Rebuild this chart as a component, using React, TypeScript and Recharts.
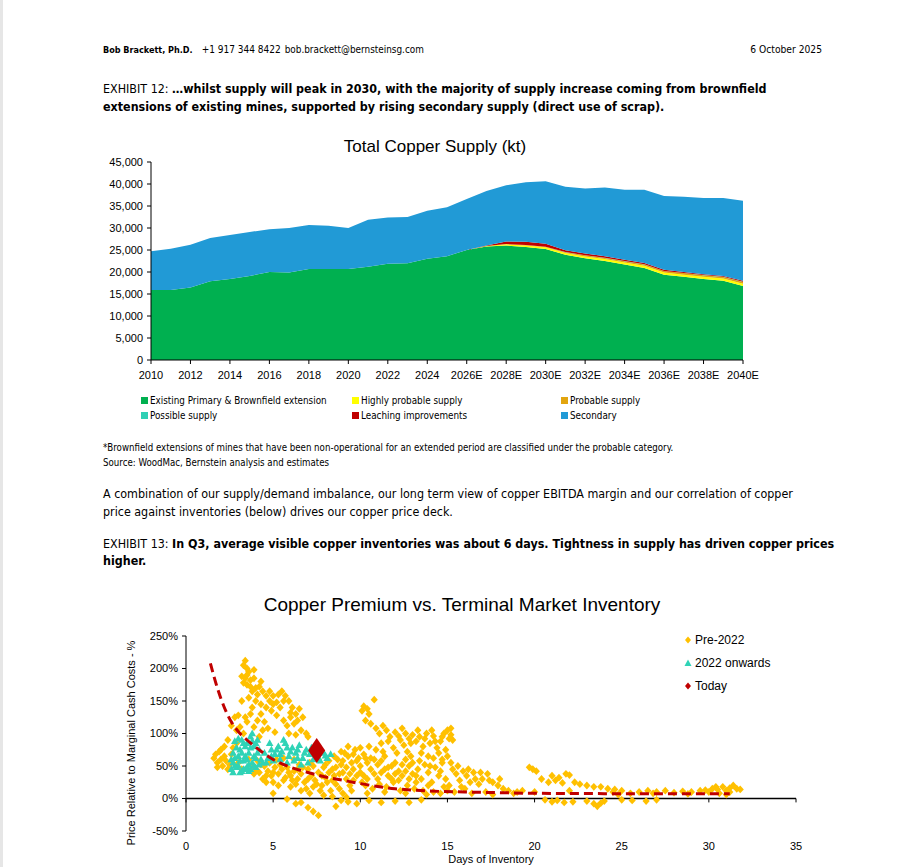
import React from "react";
import {
  Area,
  AreaChart,
  ReferenceLine,
  Scatter,
  ScatterChart,
  XAxis,
  YAxis,
} from "recharts";

// ---- Exhibit 12: total copper supply (kt) ----
const years = [
  "2010", "2011", "2012", "2013", "2014", "2015", "2016", "2017", "2018", "2019",
  "2020", "2021", "2022", "2023", "2024", "2025", "2026E", "2027E", "2028E", "2029E",
  "2030E", "2031E", "2032E", "2033E", "2034E", "2035E", "2036E", "2037E", "2038E", "2039E",
  "2040E",
];
const existingPrimary = [
  15900, 15900, 16500, 17900, 18400, 19100, 20000, 19900, 20700, 20700,
  20700, 21200, 21900, 22000, 23000, 23600, 25000, 25800, 26000, 25700,
  25200, 23900, 23100, 22500, 21700, 20900, 19400, 18900, 18400, 18000,
  16800,
];
const highlyProbable = [
  0, 0, 0, 0, 0, 0, 0, 0, 0, 0, 0, 0, 0, 0, 0, 0, 0, 100, 300, 350,
  400, 400, 450, 450, 450, 500, 500, 500, 500, 500, 550,
];
const probable = [
  0, 0, 0, 0, 0, 0, 0, 0, 0, 0, 0, 0, 0, 0, 0, 0, 0, 0, 50, 100,
  150, 200, 250, 250, 300, 300, 300, 350, 350, 350, 400,
];
const possible = [
  0, 0, 0, 0, 0, 0, 0, 0, 0, 0, 0, 0, 0, 0, 0, 0, 0, 0, 0, 0,
  0, 20, 30, 30, 40, 40, 40, 50, 50, 50, 50,
];
const leaching = [
  0, 0, 0, 0, 0, 0, 0, 0, 0, 0, 0, 0, 0, 0, 0, 0, 0, 100, 600, 700,
  650, 450, 400, 350, 300, 300, 250, 200, 200, 200, 200,
];
const secondary = [
  8800, 9400, 9700, 9800, 10000, 10000, 9700, 10100, 10000, 9800,
  9300, 10700, 10500, 10500, 10900, 11100, 11600, 12400, 12750, 13550,
  14200, 14430, 14770, 15620, 15910, 16660, 16810, 17100, 17300, 17700,
  18200,
];
const supplyTicks = [0, 5000, 10000, 15000, 20000, 25000, 30000, 35000, 40000, 45000];

// ---- Exhibit 13: copper premium vs inventory ----
// [days of inventory, price relative to marginal cash cost %]
const pre2022: [number, number][] = [
  [1.6, 62], [1.7, 68], [1.8, 55], [1.9, 72], [2.0, 60], [2.1, 50], [2.2, 65], [2.3, 58],
  [2.4, 45], [2.5, 52], [1.8, 48], [2.0, 75], [2.6, 68], [2.7, 78], [2.9, 85],
  [3.3, 205], [3.4, 212], [3.5, 200], [3.6, 195], [3.2, 188], [3.4, 185], [3.7, 182],
  [3.3, 178], [3.5, 175], [3.9, 198], [4.0, 170], [3.8, 165], [4.2, 172], [4.1, 160],
  [3.6, 155], [3.2, 150], [3.0, 128], [3.4, 125], [3.8, 140], [3.1, 110], [3.5, 118],
  [2.8, 125], [2.6, 112],
  [3.5, 190], [3.7, 172], [3.9, 185], [4.3, 180], [4.0, 150], [4.3, 145], [4.6, 140],
  [3.7, 130], [4.1, 120], [3.9, 110], [4.4, 105], [4.8, 165], [5.0, 158], [5.2, 148],
  [5.6, 150], [6.0, 132], [6.4, 120], [5.9, 100], [6.3, 98], [4.2, 95], [3.3, 100],
  [2.9, 105], [2.4, 90], [2.2, 80],
  [4.4, 165], [4.6, 158], [4.8, 150], [5.0, 145], [5.3, 160], [5.5, 165], [5.7, 158],
  [5.9, 150], [6.1, 140], [6.3, 130], [6.5, 138], [6.7, 125], [4.9, 135], [5.2, 128],
  [5.6, 120], [5.8, 112], [6.0, 125], [6.2, 115], [4.5, 118], [4.7, 108], [5.1, 102],
  [6.6, 105], [6.9, 100], [7.0, 95], [5.4, 140], [4.3, 130],
  [4.0, 45], [4.2, 40], [4.5, 50], [4.7, 42], [4.9, 35], [5.1, 48], [5.3, 38], [5.5, 45],
  [5.7, 32], [5.9, 40], [4.4, 30], [4.8, 55], [5.2, 60], [5.6, 28], [6.0, 35], [4.1, 58],
  [3.8, 50], [3.6, 60], [3.2, 45], [3.0, 55],
  [6.2, 42], [6.4, 30], [6.6, 38], [6.8, 25], [7.0, 45], [7.2, 35], [7.4, 28], [7.6, 40],
  [7.8, 20], [8.0, 32], [6.5, 52], [6.9, 15], [7.3, 18], [7.7, 12], [8.1, 25], [6.3, 22],
  [7.1, 55], [7.9, 48], [8.2, 58], [8.4, 45],
  [8.5, 35], [8.7, 60], [8.9, 52], [9.1, 70], [9.3, 65], [9.5, 55], [9.7, 75], [9.9, 62],
  [8.6, 22], [8.8, 15], [9.0, 40], [9.2, 30], [9.4, 20], [9.6, 45], [9.8, 35], [10.0, 50],
  [8.3, 12], [9.0, 8], [9.5, 12], [10.1, 25],
  [3.9, 38], [4.3, 52], [4.6, 35], [5.0, 25], [5.4, 52], [5.8, 48], [6.1, 28], [6.4, 45],
  [6.7, 48], [7.0, 30], [7.3, 50], [7.5, 22], [7.8, 35], [8.0, 52], [8.2, 40], [8.4, 28],
  [8.6, 48], [8.8, 38], [9.0, 58], [9.2, 48], [9.4, 38], [9.6, 28], [9.8, 58], [10.0, 40],
  [10.2, 35], [10.4, 30], [10.6, 62], [10.8, 38], [11.0, 30], [11.2, 58], [11.4, 45],
  [11.6, 35], [11.8, 50], [12.0, 38], [12.2, 28], [12.4, 52], [12.6, 42], [12.8, 30],
  [13.0, 55], [13.2, 35], [9.3, 80], [9.6, 68], [10.0, 78], [10.3, 62], [8.9, 72],
  [8.5, 65], [7.6, 60], [6.2, 60], [5.6, 62], [5.0, 40], [4.6, 25], [5.3, 20], [6.0, 18],
  [6.6, 12], [7.1, 8], [7.9, 5], [8.4, 3], [9.2, 2], [10.4, 8], [11.4, 10], [12.6, 8],
  [13.8, 6], [14.6, 8], [15.4, 10], [16.4, 8], [17.6, 6],
  [10.2, 68], [10.4, 55], [10.6, 45], [10.8, 60], [11.0, 52], [11.2, 40], [11.4, 65],
  [11.6, 48], [11.8, 30], [12.0, 55], [12.2, 42], [12.4, 35], [12.6, 60], [12.8, 50],
  [13.0, 38], [10.3, 20], [10.7, 15], [11.1, 22], [11.5, 18], [11.9, 25], [12.3, 12],
  [12.7, 20], [13.1, 15], [10.5, 80], [10.9, 75], [11.3, 72], [12.1, 70], [12.9, 65],
  [13.3, 45], [13.5, 30], [13.7, 52], [13.9, 40], [14.1, 25], [14.3, 48], [14.5, 35],
  [14.7, 55], [14.9, 30], [15.1, 20], [15.3, 45], [15.5, 38], [15.7, 28], [15.9, 42],
  [16.1, 35], [16.3, 25], [16.5, 40], [16.8, 22], [17.0, 30], [17.3, 38], [17.6, 25],
  [17.9, 20], [18.2, 15], [13.6, 12], [14.2, 10], [15.0, 12], [16.0, 15], [17.2, 10],
  [18.5, 12], [19.0, 10],
  [13.4, 58], [14.0, 50], [14.6, 42], [15.2, 55], [15.6, 50], [16.2, 45], [16.6, 30],
  [17.4, 28], [18.0, 30], [16.9, 40], [15.8, 18], [14.8, 18], [13.9, 20], [13.2, 25],
  [10.1, 135], [10.2, 142], [10.4, 138], [10.5, 130], [10.8, 152], [10.3, 120], [10.6, 115],
  [10.9, 108], [11.1, 100], [11.3, 112], [11.5, 105], [11.7, 95],
  [12.0, 102], [12.2, 96], [12.4, 108], [12.6, 100], [12.8, 92], [13.0, 98], [13.2, 88],
  [13.4, 95], [13.6, 80], [13.8, 100], [14.0, 85], [14.2, 96], [14.4, 78], [14.6, 88],
  [14.8, 100], [15.0, 105], [15.2, 98], [15.3, 90], [14.9, 75], [14.5, 70], [13.5, 70],
  [12.5, 82], [11.9, 78], [15.0, 65], [14.7, 60],
  [12.3, 90], [12.9, 85], [13.3, 105], [13.7, 92], [14.1, 105], [14.3, 88], [14.7, 95],
  [15.1, 92], [15.2, 108], [11.6, 88], [11.2, 85], [12.7, 72], [13.9, 65], [14.2, 62],
  [5.0, 8], [5.8, -1], [6.3, -8], [6.6, -6], [7.0, -14], [7.3, -20], [7.6, -26], [8.6, -12],
  [8.9, -3], [9.3, -5], [9.8, -8], [10.5, -3], [11.2, -6], [12.0, -4], [12.8, -6], [13.5, -2],
  [19.7, 48], [19.9, 45], [20.1, 42], [20.4, 30], [20.8, 25], [21.0, 35], [21.2, 28],
  [21.4, 32], [21.6, 24], [21.8, 38], [22.0, 36], [22.3, 25], [22.6, 22], [23.0, 20],
  [23.4, 18], [23.8, 18], [24.2, 15], [24.6, 14],
  [20.6, -2], [21.0, -5], [21.3, -3], [21.7, -6], [22.2, -5], [23.0, -4], [23.4, -8],
  [23.6, -12], [23.8, -7], [24.0, -4], [25.0, -2], [25.6, -3], [26.4, -4], [27.0, -2],
  [18.8, 8], [19.3, 12], [20.0, 10], [22.0, 12], [24.5, 10], [25.0, 12], [25.5, 8],
  [26.0, 10], [26.5, 12], [27.0, 10], [27.5, 12], [28.0, 9], [28.5, 11], [29.0, 10],
  [29.5, 12], [30.0, 10], [30.5, 14], [30.8, 18], [31.0, 12], [31.2, 16], [31.4, 20],
  [31.6, 15], [31.8, 14], [30.2, 15], [30.6, 8], [31.0, 6], [31.2, 10], [30.4, 18],
  [29.8, 13], [26.8, 8], [28.8, 7], [24.8, 6],
];
const from2022: [number, number][] = [
  [2.6, 45], [2.7, 55], [2.8, 62], [2.9, 48], [3.0, 92], [3.1, 40], [3.2, 70], [3.3, 58],
  [3.4, 45], [3.5, 85], [3.6, 52], [3.7, 95], [3.8, 100], [3.9, 65], [4.0, 48], [4.1, 90],
  [4.2, 75], [2.8, 88], [3.0, 50], [3.2, 42], [3.4, 80], [3.6, 42], [3.8, 55], [4.0, 85],
  [2.7, 40], [3.1, 75], [3.5, 60], [3.9, 80], [4.3, 60], [4.4, 55],
  [2.7, 70], [2.9, 78], [3.0, 65], [3.1, 58], [3.2, 90], [3.3, 85], [3.4, 65], [3.5, 48],
  [3.6, 70], [3.7, 78], [3.8, 88], [3.9, 50], [4.0, 62], [4.1, 70], [4.2, 52], [2.6, 60],
  [2.8, 50], [3.3, 45], [3.7, 45],
  [4.5, 70], [4.7, 62], [4.9, 75], [5.1, 68], [5.3, 80], [5.5, 72], [5.7, 85], [5.9, 65],
  [6.1, 78], [6.3, 70], [6.5, 82], [6.7, 62], [6.9, 75], [7.1, 68], [7.3, 60], [7.5, 65],
  [7.7, 58], [7.9, 70], [8.1, 62], [8.3, 68], [4.6, 55], [5.0, 58], [5.4, 60], [5.8, 55],
  [6.2, 58], [6.6, 52], [7.0, 55], [4.8, 85], [5.6, 90],
  [5.2, 75], [5.8, 78], [6.4, 75], [6.8, 70], [7.2, 78], [7.6, 72], [8.0, 66], [6.0, 72],
  [5.4, 68], [4.9, 65], [6.4, 62],
];
const today: [number, number][] = [[7.5, 74]];
const trend: [number, number][] = [
  [1.4, 208], [1.8, 170], [2.2, 140], [2.6, 118], [3.0, 103], [3.5, 90], [4.0, 79],
  [5.0, 60], [6.0, 48], [7.0, 40], [8.0, 33], [9.0, 28], [10.0, 23], [11.0, 18.5],
  [12.0, 15], [13.0, 13], [14.0, 11.5], [16.0, 10], [18.0, 9], [20.0, 8], [24.0, 7.5],
  [28.0, 7.5], [31.2, 7.5],
];
const dayTicks = [0, 5, 10, 15, 20, 25, 30, 35];
const pctTicks = [-50, 0, 50, 100, 150, 200, 250];

const supplyRows = years.map((year, i) => ({
  year,
  existingPrimary: existingPrimary[i],
  highlyProbable: highlyProbable[i],
  probable: probable[i],
  possible: possible[i],
  leaching: leaching[i],
  secondary: secondary[i],
}));
const toXY = (pts: [number, number][]) => pts.map(([x, y]) => ({ x, y }));

const CHART_FONT = "'Liberation Sans', Arial, sans-serif";
const TEXT_FONT = "'DejaVu Sans Condensed', 'Liberation Sans Narrow', sans-serif";

const colors = {
  existing: "#00B050",
  highly: "#FFFF00",
  probable: "#E2A50F",
  possible: "#2FD0B5",
  leaching: "#C00000",
  secondary: "#219AD6",
  pre: "#FFC000",
  post: "#2FD3B6",
  today: "#C00000",
};

const supplyLegend = [
  { label: "Existing Primary & Brownfield extension", color: colors.existing, left: 141, top: 395 },
  { label: "Highly probable supply", color: colors.highly, left: 352, top: 395 },
  { label: "Probable supply", color: colors.probable, left: 561, top: 395 },
  { label: "Possible supply", color: colors.possible, left: 141, top: 410 },
  { label: "Leaching improvements", color: colors.leaching, left: 352, top: 410 },
  { label: "Secondary", color: colors.secondary, left: 561, top: 410 },
];

function OrangeMark(p: any) {
  const { cx, cy } = p;
  return (
    <path
      d={`M${cx},${cy - 3.9}L${cx + 3.6},${cy}L${cx},${cy + 3.9}L${cx - 3.6},${cy}Z`}
      fill={colors.pre}
    />
  );
}

function TealMark(p: any) {
  const { cx, cy } = p;
  return (
    <path
      d={`M${cx},${cy - 4}L${cx + 3.8},${cy + 2.8}L${cx - 3.8},${cy + 2.8}Z`}
      fill={colors.post}
    />
  );
}

function TodayMark(p: any) {
  const { cx, cy } = p;
  return (
    <path
      d={`M${cx},${cy - 12.5}L${cx + 8.5},${cy}L${cx},${cy + 12.5}L${cx - 8.5},${cy}Z`}
      fill={colors.today}
    />
  );
}

const NoMark = () => <g />;

const abs = (left: number, top: number, extra: React.CSSProperties = {}): React.CSSProperties => ({
  position: "absolute",
  left,
  top,
  whiteSpace: "nowrap",
  ...extra,
});

export default function App() {
  const axisTick = { fill: "#000", fontSize: 11, fontFamily: CHART_FONT };
  return (
    <div
      style={{
        position: "absolute",
        left: 0,
        top: 0,
        width: 918,
        height: 867,
        overflow: "hidden",
        background: "#fff",
        color: "#000",
        fontFamily: TEXT_FONT,
      }}
    >
      <div style={{ position: "absolute", left: 0, top: 0, width: 3, height: 867, background: "#e6e6e6" }} />

      {/* header */}
      <div style={abs(103, 44, { fontSize: 10 })}>
        <b style={{ fontSize: 9 }}>Bob Brackett, Ph.D.</b>
        <span style={{ marginLeft: 9 }}>+1 917 344 8422</span>
        <span style={{ marginLeft: 4, fontSize: 9.9 }}>bob.brackett@bernsteinsg.com</span>
      </div>
      <div style={abs(0, 44, { fontSize: 10.2, left: "auto", right: 96 })}>6 October 2025</div>

      {/* exhibit 12 */}
      <div style={abs(103, 81, { fontSize: 12.4 })}>
        <span style={{ fontWeight: 300 }}>EXHIBIT 12: </span>
        <b>…whilst supply will peak in 2030, with the majority of supply increase coming from brownfield</b>
      </div>
      <div style={abs(103, 99, { fontSize: 12.4, fontWeight: 700 })}>
        extensions of existing mines, supported by rising secondary supply (direct use of scrap).
      </div>

      <div style={abs(0, 137, { width: 870, textAlign: "center", fontFamily: CHART_FONT, fontSize: 17 })}>
        Total Copper Supply (kt)
      </div>

      <div style={{ position: "absolute", left: 90, top: 155 }}>
        <AreaChart
          width={680}
          height={225}
          data={supplyRows}
          margin={{ top: 7, right: 27, left: 11, bottom: 0 }}
        >
          <XAxis
            dataKey="year"
            interval={1}
            height={20}
            tickSize={4}
            tickMargin={7}
            stroke="#000"
            tick={axisTick}
          />
          <YAxis
            width={50}
            domain={[0, 45000]}
            ticks={supplyTicks}
            tickSize={4}
            tickMargin={4}
            stroke="#000"
            tick={axisTick}
            tickFormatter={(v: number) => v.toLocaleString("en-US")}
          />
          <Area dataKey="existingPrimary" stackId="s" type="linear" stroke="none" fill={colors.existing} fillOpacity={1} isAnimationActive={false} />
          <Area dataKey="highlyProbable" stackId="s" type="linear" stroke="none" fill={colors.highly} fillOpacity={1} isAnimationActive={false} />
          <Area dataKey="probable" stackId="s" type="linear" stroke="none" fill={colors.probable} fillOpacity={1} isAnimationActive={false} />
          <Area dataKey="possible" stackId="s" type="linear" stroke="none" fill={colors.possible} fillOpacity={1} isAnimationActive={false} />
          <Area dataKey="leaching" stackId="s" type="linear" stroke="none" fill={colors.leaching} fillOpacity={1} isAnimationActive={false} />
          <Area dataKey="secondary" stackId="s" type="linear" stroke="none" fill={colors.secondary} fillOpacity={1} isAnimationActive={false} />
        </AreaChart>
      </div>

      {supplyLegend.map((l) => (
        <div key={l.label} style={abs(l.left, l.top, { fontSize: 9.8, display: "flex", alignItems: "center" })}>
          <span style={{ display: "inline-block", width: 7, height: 7, background: l.color, marginRight: 2 }} />
          {l.label}
        </div>
      ))}

      <div style={abs(103, 442, { fontSize: 9.65 })}>
        *Brownfield extensions of mines that have been non-operational for an extended period are classified under the probable category.
      </div>
      <div style={abs(103, 457, { fontSize: 9.65 })}>Source: WoodMac, Bernstein analysis and estimates</div>

      <div style={abs(103, 486, { fontSize: 12.4 })}>
        A combination of our supply/demand imbalance, our long term view of copper EBITDA margin and our correlation of copper
      </div>
      <div style={abs(103, 504, { fontSize: 12.4 })}>
        price against inventories (below) drives our copper price deck.
      </div>

      {/* exhibit 13 */}
      <div style={abs(103, 536, { fontSize: 12.4 })}>
        <span style={{ fontWeight: 300 }}>EXHIBIT 13: </span>
        <b>In Q3, average visible copper inventories was about 6 days. Tightness in supply has driven copper prices</b>
      </div>
      <div style={abs(103, 553, { fontSize: 12.4, fontWeight: 700 })}>higher.</div>

      <div style={abs(0, 594, { width: 924, textAlign: "center", fontFamily: CHART_FONT, fontSize: 19 })}>
        Copper Premium vs. Terminal Market Inventory
      </div>

      <div style={{ position: "absolute", left: 90, top: 620 }}>
        <ScatterChart width={730} height={247} margin={{ top: 16, right: 24, left: 26, bottom: 0 }}>
          <XAxis
            type="number"
            dataKey="x"
            domain={[0, 35]}
            ticks={dayTicks}
            height={36}
            axisLine={false}
            tickLine={false}
            tickSize={0}
            tickMargin={11}
            tick={axisTick}
          />
          <YAxis
            type="number"
            dataKey="y"
            width={70}
            domain={[-50, 250]}
            ticks={pctTicks}
            tickSize={4}
            tickMargin={4}
            stroke="#000"
            tick={axisTick}
            tickFormatter={(v: number) => `${v}%`}
          />
          <ReferenceLine y={0} stroke="#000" strokeWidth={1.3} />
          {dayTicks.map((t) => (
            <ReferenceLine
              key={t}
              segment={[{ x: t, y: 0 }, { x: t, y: -6 }]}
              stroke="#000"
              strokeWidth={1}
            />
          ))}
          <Scatter data={toXY(pre2022)} shape={OrangeMark} isAnimationActive={false} />
          <Scatter data={toXY(from2022)} shape={TealMark} isAnimationActive={false} />
          <Scatter
            data={toXY(trend)}
            shape={NoMark}
            line={{ stroke: colors.today, strokeWidth: 3, strokeDasharray: "9 5" }}
            lineJointType="monotoneX"
            isAnimationActive={false}
          />
          <Scatter data={toXY(today)} shape={TodayMark} isAnimationActive={false} />
        </ScatterChart>
      </div>

      <div
        style={abs(131, 743, {
          fontFamily: CHART_FONT,
          fontSize: 11,
          transform: "translate(-50%, -50%) rotate(-90deg)",
        })}
      >
        Price Relative to Marginal Cash Costs - %
      </div>
      <div style={abs(0, 853, { width: 982, textAlign: "center", fontFamily: CHART_FONT, fontSize: 11 })}>
        Days of Inventory
      </div>

      {/* scatter legend */}
      {[
        { label: "Pre-2022", top: 633, shape: "d", color: colors.pre },
        { label: "2022 onwards", top: 656, shape: "t", color: colors.post },
        { label: "Today", top: 679, shape: "d", color: colors.today },
      ].map((l) => (
        <div key={l.label} style={abs(684, l.top, { fontFamily: CHART_FONT, fontSize: 12, display: "flex", alignItems: "center" })}>
          <svg width={8} height={8} style={{ marginRight: 3 }}>
            {l.shape === "d" ? (
              <path d="M4,0.5L7,4L4,7.5L1,4Z" fill={l.color} />
            ) : (
              <path d="M4,0.5L7.5,7L0.5,7Z" fill={l.color} />
            )}
          </svg>
          {l.label}
        </div>
      ))}
    </div>
  );
}
